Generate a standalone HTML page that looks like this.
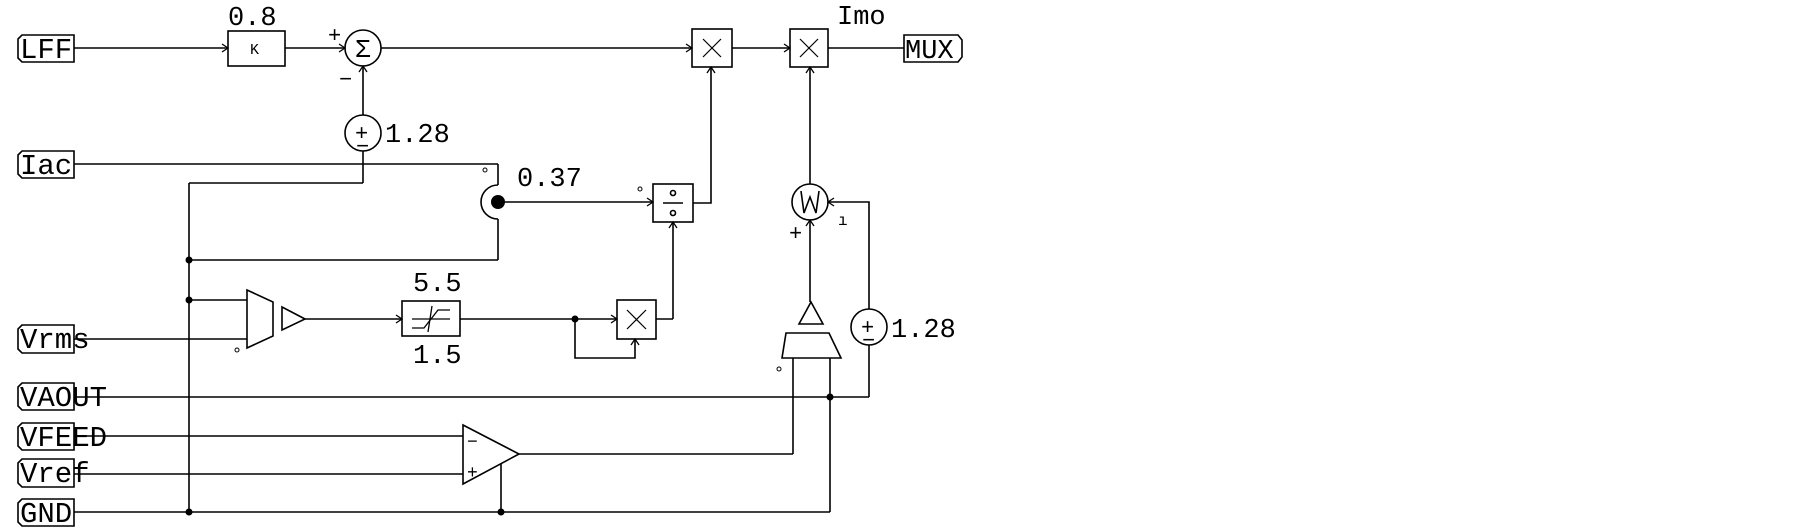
<!DOCTYPE html>
<html><head><meta charset="utf-8"><style>
html,body{margin:0;padding:0;background:#fff;}
svg{display:block;}
text{font-family:"Liberation Mono",monospace;fill:#000;}
</style></head><body>
<svg width="1805" height="530" viewBox="0 0 1805 530" xmlns="http://www.w3.org/2000/svg">
<g fill="none" stroke="#000" stroke-width="1.6">
<!-- labels -->
<path d="M22,35 H74 V62 H22 L18,58 V39 Z"/>
<path d="M22,151 H74 V178 H22 L18,174 V155 Z"/>
<path d="M22,325 H74 V353 H22 L18,349 V329 Z"/>
<path d="M22,383 H74 V410 H22 L18,406 V387 Z"/>
<path d="M22,423 H74 V450 H22 L18,446 V427 Z"/>
<path d="M22,459 H74 V487 H22 L18,483 V463 Z"/>
<path d="M22,499 H74 V526 H22 L18,522 V503 Z"/>
<path d="M904,35 H958 L962,40 V57 L958,62 H904 Z"/>
<!-- top line -->
<line x1="74" y1="48" x2="228" y2="48"/>
<rect x="228" y="31" width="57" height="35"/>
<line x1="285" y1="48" x2="345" y2="48"/>
<circle cx="363" cy="48" r="18"/>
<line x1="381" y1="48" x2="692" y2="48"/>
<rect x="692" y="29" width="40" height="38"/>
<line x1="703" y1="39" x2="721" y2="57" stroke-width="1.2"/><line x1="721" y1="39" x2="703" y2="57" stroke-width="1.2"/>
<line x1="732" y1="48" x2="790" y2="48"/>
<rect x="790" y="29" width="38" height="38"/>
<line x1="800" y1="39" x2="818" y2="57" stroke-width="1.2"/><line x1="818" y1="39" x2="800" y2="57" stroke-width="1.2"/>
<line x1="828" y1="48" x2="904" y2="48"/>
<!-- sum to pm -->
<line x1="363" y1="66" x2="363" y2="115"/>
<circle cx="363" cy="133" r="18"/>
<line x1="363" y1="151" x2="363" y2="183"/>
<line x1="363" y1="183" x2="189" y2="183"/>
<line x1="189" y1="183" x2="189" y2="512"/>
<!-- Iac -->
<line x1="74" y1="164" x2="498" y2="164"/>
<line x1="498" y1="164" x2="498" y2="185"/>
<path d="M498,185 A17,17 0 0 0 498,219"/>
<line x1="498" y1="219" x2="498" y2="260"/>
<line x1="498" y1="260" x2="189" y2="260"/>
<line x1="498" y1="202" x2="653" y2="202"/>
<rect x="653" y="184" width="40" height="38"/>
<line x1="663" y1="203" x2="683" y2="203"/>
<circle cx="673" cy="193" r="2.5"/><circle cx="673" cy="213" r="2.5"/>
<polyline points="693,203 711,203 711,67"/>
<line x1="673" y1="222" x2="673" y2="319"/>
<polyline points="656,319 673,319"/>
<!-- W -->
<line x1="810" y1="67" x2="810" y2="184"/>
<circle cx="810" cy="202" r="18"/>
<polyline points="801,191 804,213 810,197 816,213 819,191"/>
<polyline points="828,202 869,202 869,309"/>
<circle cx="869" cy="327" r="18"/>
<line x1="869" y1="345" x2="869" y2="397"/>
<line x1="810" y1="220" x2="810" y2="302"/>
<polygon points="811,302 799,324 823,324"/>
<polygon points="786,333 829,333 841,358 782,358"/>
<line x1="793" y1="358" x2="793" y2="454"/>
<line x1="830" y1="358" x2="830" y2="512"/>
<!-- Vrms chain -->
<line x1="189" y1="300" x2="247" y2="300"/>
<line x1="74" y1="339" x2="247" y2="339"/>
<polygon points="247,290 273,302 273,336 247,348"/>
<polygon points="282,307 305,319 282,330"/>
<line x1="305" y1="319" x2="402" y2="319"/>
<rect x="402" y="301" width="58" height="35"/>
<polyline points="412,328 424,328 438,310 450,310" stroke-width="1.3"/>
<line x1="412" y1="319" x2="450" y2="319" stroke-width="1.3"/>
<line x1="432" y1="306" x2="428" y2="332" stroke-width="1.3"/>
<line x1="460" y1="319" x2="617" y2="319"/>
<rect x="617" y="300" width="39" height="39"/>
<line x1="627" y1="310" x2="646" y2="329" stroke-width="1.2"/><line x1="646" y1="310" x2="627" y2="329" stroke-width="1.2"/>
<polyline points="575,319 575,358 635,358 635,339"/>
<!-- VAOUT etc -->
<line x1="74" y1="397" x2="869" y2="397"/>
<line x1="74" y1="436" x2="463" y2="436"/>
<line x1="74" y1="474" x2="463" y2="474"/>
<polygon points="463,425 519,454 463,484"/>
<line x1="519" y1="454" x2="793" y2="454"/>
<line x1="501" y1="464" x2="501" y2="512"/>
<line x1="74" y1="512" x2="830" y2="512"/>
<!-- arrowheads -->
<g stroke-width="1.3">
<polyline points="222,44 228,48 222,52"/>
<polyline points="339,44 345,48 339,52"/>
<polyline points="359,72 363,66 367,72"/>
<polyline points="686,44 692,48 686,52"/>
<polyline points="784,44 790,48 784,52"/>
<polyline points="707,73 711,67 715,73"/>
<polyline points="806,73 810,67 814,73"/>
<polyline points="647,198 653,202 647,206"/>
<polyline points="669,228 673,222 677,228"/>
<polyline points="834,198 828,202 834,206"/>
<polyline points="806,226 810,220 814,226"/>
<polyline points="396,315 402,319 396,323"/>
<polyline points="611,315 617,319 611,323"/>
<polyline points="631,345 635,339 639,345"/>
</g>
<!-- small circles -->
<circle cx="485" cy="170" r="2" stroke-width="1"/>
<circle cx="640" cy="189" r="2" stroke-width="1"/>
<circle cx="237" cy="350" r="2" stroke-width="1"/>
<circle cx="779" cy="369" r="2" stroke-width="1"/>
</g>
<!-- dots -->
<g fill="#000">
<circle cx="498" cy="202" r="7"/>
<circle cx="189" cy="260" r="3.5"/>
<circle cx="189" cy="300" r="3.5"/>
<circle cx="189" cy="512" r="3.5"/>
<circle cx="575" cy="319" r="3.5"/>
<circle cx="830" cy="397" r="3.5"/>
<circle cx="501" cy="512" r="3.5"/>
</g>
<!-- text -->
<g font-size="29">
<text x="20" y="58">LFF</text>
<text x="20" y="174">Iac</text>
<text x="20" y="348">Vrms</text>
<text x="20" y="406">VAOUT</text>
<text x="20" y="446">VFEED</text>
<text x="20" y="482">Vref</text>
<text x="20" y="522">GND</text>
<text x="905" y="58" font-size="27">MUX</text>
</g>
<g font-size="27">
<text x="228" y="25">0.8</text>
<text x="385" y="142">1.28</text>
<text x="517" y="186">0.37</text>
<text x="837" y="24">Imo</text>
<text x="413" y="291">5.5</text>
<text x="413" y="363">1.5</text>
<text x="891" y="337">1.28</text>
</g>
<g font-size="15">
<text x="250" y="54">K</text>
</g>
<g font-size="22">
<text x="328" y="42">+</text>
<text x="339" y="86">−</text>
<text x="355" y="140">+</text>
<text x="356" y="153">−</text>
<text x="861" y="334">+</text>
<text x="862" y="347">−</text>
<text x="789" y="240">+</text>
<text x="838" y="225" font-size="16">ı</text>
<text x="467" y="447" font-size="18">−</text>
<text x="467" y="478" font-size="18">+</text>
</g>
<text x="355" y="57" font-size="26">Σ</text>
</svg>
</body></html>
